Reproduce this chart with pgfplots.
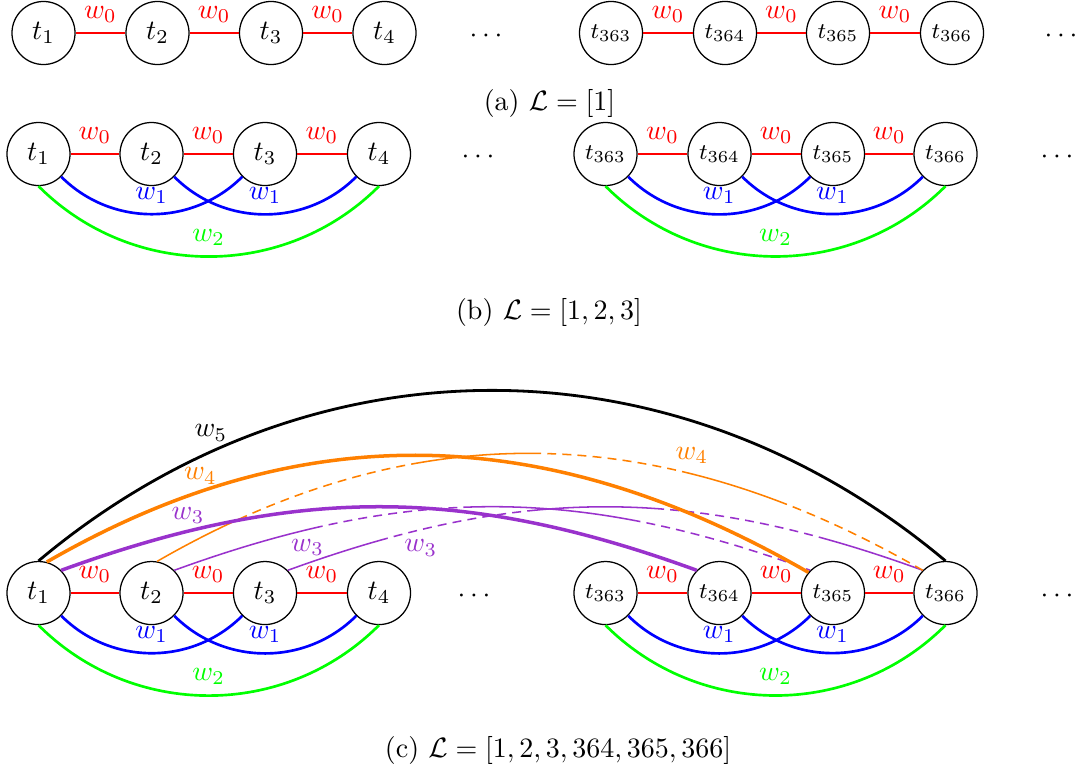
\documentclass[border=0pt]{standalone}
\usepackage{pgfplots}
\pgfplotsset{compat=1.18}
\definecolor{purp}{RGB}{153,50,204}
\definecolor{org}{RGB}{255,128,0}
\begin{document}
\begin{tikzpicture}[
  v/.style={circle,draw,line width=0.45pt,minimum size=22.5pt,inner sep=0pt},
  vs/.style={v,font=\footnotesize},
  e0/.style={red,line width=0.95pt},
  e1/.style={blue,line width=0.95pt},
  e2/.style={green,line width=0.95pt},
  la/.style={above,inner sep=1pt,yshift=2.2pt},
  pO/.style={dash pattern=on 36pt off 2.2pt on 3.2pt off 2.2pt on 3.2pt off 2.2pt on 3.2pt off 2.2pt on 3.2pt off 2.2pt on 3.2pt off 2.2pt on 3.2pt off 2.2pt on 3.2pt off 2.2pt on 3.2pt off 2.2pt on 3.2pt off 2.2pt on 3.2pt off 2.2pt on 3.2pt off 2.2pt on 46.6pt off 2.2pt on 3.2pt off 2.2pt on 3.2pt off 2.2pt on 3.2pt off 2.2pt on 3.2pt off 2.2pt on 3.2pt off 2.2pt on 3.2pt off 2.2pt on 3.2pt off 2.2pt on 3.2pt off 2.2pt on 3.2pt off 2.2pt on 39.3pt off 2.2pt on 3.2pt off 2.2pt on 3.2pt off 2.2pt on 3.2pt off 2.2pt on 3.2pt off 2.2pt on 3.2pt off 2.2pt on 3.2pt off 2.2pt on 3.2pt off 2.2pt on 3.2pt off 2.2pt on 3.2pt off 2.2pt on 3.2pt off 2.2pt on 3.2pt off 2.2pt on 3.2pt off 2.2pt on 3.2pt off 2.2pt on 3.2pt off 2.2pt},
  pA/.style={dash pattern=on 55.3pt off 2.2pt on 3.2pt off 2.2pt on 3.2pt off 2.2pt on 3.2pt off 2.2pt on 3.2pt off 2.2pt on 3.2pt off 2.2pt on 3.2pt off 2.2pt on 3.2pt off 2.2pt on 3.2pt off 2.2pt on 3.2pt off 2.2pt on 63.5pt off 2.2pt on 3.2pt off 2.2pt on 3.2pt off 2.2pt on 3.2pt off 2.2pt on 3.2pt off 2.2pt on 3.2pt off 2.2pt on 3.2pt off 2.2pt on 3.2pt off 2.2pt on 3.2pt off 2.2pt on 3.2pt off 2.2pt on 3.2pt off 2.2pt on 3.2pt off 2.2pt on 3.2pt off 2.2pt on 3.2pt off 2.2pt on 3.2pt off 2.2pt},
  pB/.style={dash pattern=on 37.5pt off 2.2pt on 3.2pt off 2.2pt on 3.2pt off 2.2pt on 3.2pt off 2.2pt on 3.2pt off 2.2pt on 3.2pt off 2.2pt on 3.2pt off 2.2pt on 3.2pt off 2.2pt on 3.2pt off 2.2pt on 3.2pt off 2.2pt on 48.9pt off 2.2pt on 3.2pt off 2.2pt on 3.2pt off 2.2pt on 3.2pt off 2.2pt on 3.2pt off 2.2pt on 3.2pt off 2.2pt on 3.2pt off 2.2pt on 3.2pt off 2.2pt on 3.2pt off 2.2pt on 3.2pt off 2.2pt on 3.2pt off 2.2pt on 60pt off 2pt},
]
\begin{axis}[scale only axis, width=384.8pt, height=276.3pt,
  xmin=0, xmax=1078, ymin=0, ymax=774, y dir=reverse, hide axis, clip=false]
% ---------- row (a)
\node[v]  (a1) at (axis cs:43.5,33)  {$t_1$};
\node[v]  (a2) at (axis cs:157.5,33) {$t_2$};
\node[v]  (a3) at (axis cs:271,33)   {$t_3$};
\node[v]  (a4) at (axis cs:384.5,33) {$t_4$};
\node[vs] (a5) at (axis cs:611,33)   {$t_{363}$};
\node[vs] (a6) at (axis cs:725,33)   {$t_{364}$};
\node[vs] (a7) at (axis cs:838,33)   {$t_{365}$};
\node[vs] (a8) at (axis cs:952,33)   {$t_{366}$};
\node at (axis cs:486,36) {$\cdots$};
\node at (axis cs:1061,36) {$\cdots$};
\draw[e0] (a1.east) -- node[la]{$w_0$} (a2.west);
\draw[e0] (a2.east) -- node[la]{$w_0$} (a3.west);
\draw[e0] (a3.east) -- node[la]{$w_0$} (a4.west);
\draw[e0] (a5.east) -- node[la]{$w_0$} (a6.west);
\draw[e0] (a6.east) -- node[la]{$w_0$} (a7.west);
\draw[e0] (a7.east) -- node[la]{$w_0$} (a8.west);
\node at (axis cs:549.5,103) {(a) $\mathcal{L}=[1]$};
% ---------- row (b)
\node[v]  (b1) at (axis cs:38.5,154)  {$t_1$};
\node[v]  (b2) at (axis cs:151.5,154) {$t_2$};
\node[v]  (b3) at (axis cs:265,154)   {$t_3$};
\node[v]  (b4) at (axis cs:379,154)   {$t_4$};
\node[vs] (b5) at (axis cs:605.5,154) {$t_{363}$};
\node[vs] (b6) at (axis cs:719.5,154) {$t_{364}$};
\node[vs] (b7) at (axis cs:833,154)   {$t_{365}$};
\node[vs] (b8) at (axis cs:945.5,154) {$t_{366}$};
\node at (axis cs:478,157) {$\cdots$};
\node at (axis cs:1057,157) {$\cdots$};
\draw[e0] (b1.east) -- node[above]{$w_0$} (b2.west);
\draw[e0] (b2.east) -- node[above]{$w_0$} (b3.west);
\draw[e0] (b3.east) -- node[above]{$w_0$} (b4.west);
\draw[e0] (b5.east) -- node[above]{$w_0$} (b6.west);
\draw[e0] (b6.east) -- node[above]{$w_0$} (b7.west);
\draw[e0] (b7.east) -- node[above]{$w_0$} (b8.west);
\draw[e1] (b1.south east) to[out=-45,in=-135] node[above]{$w_1$} (b3.south west);
\draw[e1] (b2.south east) to[out=-45,in=-135] node[above]{$w_1$} (b4.south west);
\draw[e2] (b1.south) to[out=-45,in=-135] node[above]{$w_2$} (b4.south);
\draw[e1] (b5.south east) to[out=-45,in=-135] node[above]{$w_1$} (b7.south west);
\draw[e1] (b6.south east) to[out=-45,in=-135] node[above]{$w_1$} (b8.south west);
\draw[e2] (b5.south) to[out=-45,in=-135] node[above]{$w_2$} (b8.south);
\node at (axis cs:549,312.5) {(b) $\mathcal{L}=[1,2,3]$};
% ---------- row (c)
\node[v]  (c1) at (axis cs:38.5,593)  {$t_1$};
\node[v]  (c2) at (axis cs:151.5,593) {$t_2$};
\node[v]  (c3) at (axis cs:265,593)   {$t_3$};
\node[v]  (c4) at (axis cs:379,593)   {$t_4$};
\node[vs] (c5) at (axis cs:605.5,593) {$t_{363}$};
\node[vs] (c6) at (axis cs:719.5,593) {$t_{364}$};
\node[vs] (c7) at (axis cs:833,593)   {$t_{365}$};
\node[vs] (c8) at (axis cs:945.5,593) {$t_{366}$};
\node at (axis cs:474,596) {$\cdots$};
\node at (axis cs:1057,596) {$\cdots$};
\draw[e0] (c1.east) -- node[above]{$w_0$} (c2.west);
\draw[e0] (c2.east) -- node[above]{$w_0$} (c3.west);
\draw[e0] (c3.east) -- node[above]{$w_0$} (c4.west);
\draw[e0] (c5.east) -- node[above]{$w_0$} (c6.west);
\draw[e0] (c6.east) -- node[above]{$w_0$} (c7.west);
\draw[e0] (c7.east) -- node[above]{$w_0$} (c8.west);
\draw[e1] (c1.south east) to[out=-45,in=-135] node[above]{$w_1$} (c3.south west);
\draw[e1] (c2.south east) to[out=-45,in=-135] node[above]{$w_1$} (c4.south west);
\draw[e2] (c1.south) to[out=-45,in=-135] node[above]{$w_2$} (c4.south);
\draw[e1] (c5.south east) to[out=-45,in=-135] node[above]{$w_1$} (c7.south west);
\draw[e1] (c6.south east) to[out=-45,in=-135] node[above]{$w_1$} (c8.south west);
\draw[e2] (c5.south) to[out=-45,in=-135] node[above]{$w_2$} (c8.south);
% upper edges
\draw[purp, line width=0.55pt, pA] (c2.north east) to[out=20,in=160] node[pos=0.2,below]{$w_3$} (c7.north west);
\draw[purp, line width=0.55pt, pB] (c3.north east) to[out=20,in=160] node[pos=0.2,below]{$w_3$} (c8.north west);
\draw[org, line width=0.55pt, pO] (c2.80) to[out=30,in=150] node[pos=0.7,above]{$w_4$} (c8.north west);
\draw[purp, line width=1.25pt] (c1.north east) to[out=20,in=160] node[pos=0.19,above,inner sep=2pt]{$w_3$} (c6.north west);
\draw[org, line width=1.25pt] (c1.75) to[out=30,in=150] node[pos=0.2,above,inner sep=2pt]{$w_4$} (c7.140);
\draw[black, line width=1pt] (c1.north) to[out=40,in=140] node[pos=0.2,above]{$w_5$} (c8.north);
\node at (axis cs:558,750) {(c) $\mathcal{L}=[1,2,3,364,365,366]$};
\end{axis}
\pgfresetboundingbox
\path (current axis.south west) rectangle (current axis.north east);
\end{tikzpicture}
\end{document}
